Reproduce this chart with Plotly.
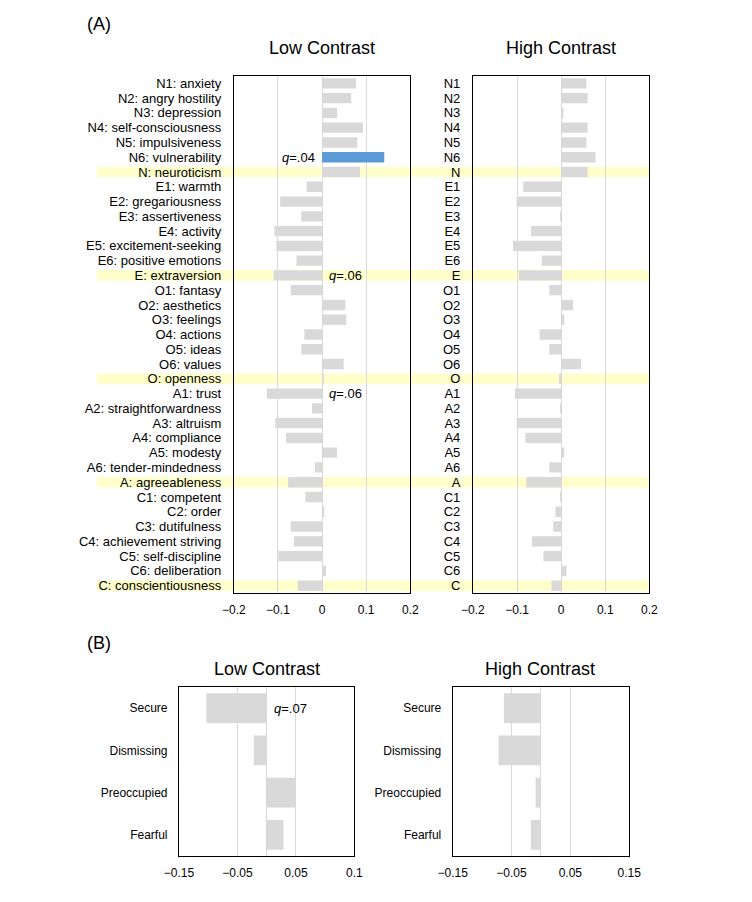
import plotly.graph_objects as go

W, H = 752, 902
FONT = "Liberation Sans, Arial, sans-serif"

# ---------------- data ----------------
rows_full = [
    "N1: anxiety", "N2: angry hostility", "N3: depression", "N4: self-consciousness",
    "N5: impulsiveness", "N6: vulnerability", "N: neuroticism",
    "E1: warmth", "E2: gregariousness", "E3: assertiveness", "E4: activity",
    "E5: excitement-seeking", "E6: positive emotions", "E: extraversion",
    "O1: fantasy", "O2: aesthetics", "O3: feelings", "O4: actions", "O5: ideas",
    "O6: values", "O: openness",
    "A1: trust", "A2: straightforwardness", "A3: altruism", "A4: compliance",
    "A5: modesty", "A6: tender-mindedness", "A: agreeableness",
    "C1: competent", "C2: order", "C3: dutifulness", "C4: achievement striving",
    "C5: self-discipline", "C6: deliberation", "C: conscientiousness",
]
rows_short = [
    "N1", "N2", "N3", "N4", "N5", "N6", "N",
    "E1", "E2", "E3", "E4", "E5", "E6", "E",
    "O1", "O2", "O3", "O4", "O5", "O6", "O",
    "A1", "A2", "A3", "A4", "A5", "A6", "A",
    "C1", "C2", "C3", "C4", "C5", "C6", "C",
]
factor_rows = ["N: neuroticism", "E: extraversion", "O: openness",
               "A: agreeableness", "C: conscientiousness"]

low_A = [0.077, 0.066, 0.034, 0.093, 0.080, 0.141, 0.086,
         -0.035, -0.095, -0.047, -0.108, -0.104, -0.058, -0.110,
         -0.071, 0.053, 0.055, -0.040, -0.047, 0.049, 0.002,
         -0.125, -0.023, -0.106, -0.082, 0.034, -0.016, -0.077,
         -0.038, 0.005, -0.071, -0.064, -0.099, 0.009, -0.055]
high_A = [0.057, 0.060, 0.005, 0.060, 0.057, 0.078, 0.060,
          -0.086, -0.101, -0.001, -0.068, -0.109, -0.044, -0.096,
          -0.027, 0.027, 0.007, -0.049, -0.027, 0.045, -0.005,
          -0.105, -0.003, -0.101, -0.081, 0.007, -0.027, -0.079,
          -0.002, -0.013, -0.018, -0.066, -0.040, 0.012, -0.022]
highlight_low_A = "N6: vulnerability"
qlabels_A = [("N6: vulnerability", "<i>q</i>=.04", "left"),
             ("E: extraversion", "<i>q</i>=.06", "right"),
             ("A1: trust", "<i>q</i>=.06", "right")]

cats_B = ["Secure", "Dismissing", "Preoccupied", "Fearful"]
low_B = [-0.103, -0.022, 0.050, 0.029]
high_B = [-0.063, -0.072, -0.009, -0.017]
qlabels_B = [("Secure", "<i>q</i>=.07", "right")]

ticks_A = [-0.2, -0.1, 0, 0.1, 0.2]
ticktext_A = ["\u22120.2", "\u22120.1", "0", "0.1", "0.2"]
ticks_B = [-0.15, -0.05, 0.05, 0.15]
ticktext_B_low = ["\u22120.15", "\u22120.05", "0.05", "0.1"]
ticktext_B_high = ["\u22120.15", "\u22120.05", "0.05", "0.15"]
grid_B = [-0.05, 0, 0.05]

GREY = "#d9d9d9"
BLUE = "#5b9bd5"
YELLOW = "#ffffcc"


def px_x(a, b):
    return [a / W, b / W]


def px_y(top, bottom):
    return [1 - bottom / H, 1 - top / H]


fig = go.Figure()

low_colors = [BLUE if r == highlight_low_A else GREY for r in rows_full]
fig.add_trace(go.Bar(x=low_A, y=rows_full, orientation="h", marker_color=low_colors,
                     marker_line_width=0, xaxis="x", yaxis="y", showlegend=False))
fig.add_trace(go.Bar(x=high_A, y=rows_short, orientation="h", marker_color=GREY,
                     marker_line_width=0, xaxis="x2", yaxis="y2", showlegend=False))
fig.add_trace(go.Bar(x=low_B, y=cats_B, orientation="h", marker_color=GREY,
                     marker_line_width=0, xaxis="x3", yaxis="y3", showlegend=False))
fig.add_trace(go.Bar(x=high_B, y=cats_B, orientation="h", marker_color=GREY,
                     marker_line_width=0, xaxis="x4", yaxis="y4", showlegend=False))

box = dict(showline=True, mirror=True, linecolor="black", linewidth=1)
catfont = dict(family=FONT, size=13, color="black")
tickfont = dict(family=FONT, size=12, color="black")

xa = dict(range=[-0.2, 0.2], tickvals=ticks_A, ticktext=ticktext_A, showgrid=True,
          gridcolor=GREY, gridwidth=1, zeroline=False, ticks="outside", ticklen=6,
          tickcolor="rgba(0,0,0,0)", tickfont=tickfont, fixedrange=True, **box)
ya = dict(type="category", autorange="reversed", showgrid=False, zeroline=False,
          ticks="outside", ticklen=9, tickcolor="rgba(0,0,0,0)", tickfont=catfont, **box)

xb = dict(range=[-0.15, 0.15], tickvals=ticks_B, showgrid=False, zeroline=False,
          ticks="outside", ticklen=6, tickcolor="rgba(0,0,0,0)", tickfont=tickfont,
          minor=dict(tickvals=grid_B, showgrid=True, gridcolor=GREY, gridwidth=1, ticks=""),
          **box)
yb = dict(type="category", autorange="reversed", showgrid=False, zeroline=False,
          ticks="outside", ticklen=8, tickcolor="rgba(0,0,0,0)",
          tickfont=dict(family=FONT, size=12, color="black"), **box)

fig.update_layout(
    width=W, height=H,
    margin=dict(l=0, r=0, t=0, b=0),
    paper_bgcolor="white", plot_bgcolor="rgba(0,0,0,0)",
    bargap=0.3,
    font=dict(family=FONT, color="black"),
    xaxis=dict(domain=px_x(227, 410), anchor="y", **xa),
    yaxis=dict(domain=px_y(76, 593), anchor="x", tickmode="array", tickvals=rows_full, **ya),
    xaxis2=dict(domain=px_x(475, 658), anchor="y2", **xa),
    yaxis2=dict(domain=px_y(76, 593), anchor="x2", tickmode="array", tickvals=rows_short, **ya),
    xaxis3=dict(domain=px_x(170, 352), anchor="y3", ticktext=ticktext_B_low, **xb),
    yaxis3=dict(domain=px_y(687, 856), anchor="x3", **yb),
    xaxis4=dict(domain=px_x(454, 637), anchor="y4", ticktext=ticktext_B_high, **xb),
    yaxis4=dict(domain=px_y(687, 856), anchor="x4", **yb),
)

shapes = []
for r in factor_rows:
    i = rows_full.index(r)
    shapes.append(dict(type="rect", xref="paper", yref="y", x0=85 / W, x1=658 / W,
                       y0=i - 0.36, y1=i + 0.36, fillcolor=YELLOW, line_width=0,
                       layer="below"))
fig.update_layout(shapes=shapes)

ann = []
for row, txt, side in qlabels_A:
    ann.append(dict(x=0, y=row, xref="x", yref="y", text=txt, showarrow=False,
                    xanchor="right" if side == "left" else "left",
                    xshift=-5 if side == "left" else 5,
                    font=dict(family=FONT, size=13, color="black")))
for row, txt, side in qlabels_B:
    ann.append(dict(x=0, y=row, xref="x3", yref="y3", text=txt, showarrow=False,
                    xanchor="left", xshift=5,
                    font=dict(family=FONT, size=13, color="black")))

titles = [("(A)", 73, 24, "left"), ("Low Contrast", 318, 48, "center"),
          ("High Contrast", 566, 48, "center"), ("(B)", 73, 643, "left"),
          ("Low Contrast", 261, 669, "center"), ("High Contrast", 545, 669, "center")]
for txt, x, y, anc in titles:
    ann.append(dict(x=x / W, y=1 - y / H, xref="paper", yref="paper", text=txt,
                    showarrow=False, xanchor=anc, yanchor="middle",
                    font=dict(family=FONT, size=18, color="black")))
fig.update_layout(annotations=ann)

fig.write_html("out.html")
